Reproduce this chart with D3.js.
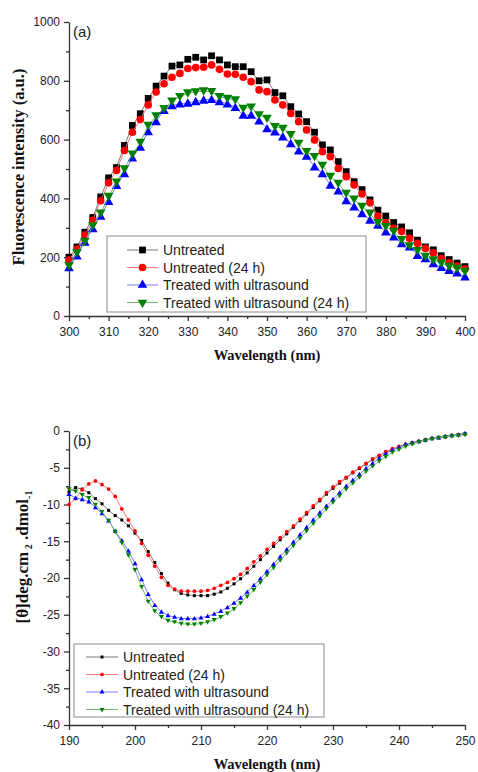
<!DOCTYPE html>
<html>
<head>
<meta charset="utf-8">
<script src="https://d3js.org/d3.v7.min.js"></script>
<style>
  body { margin: 0; background: #fff; }
  svg { display: block; }
  .tick text { font-family: "Liberation Sans", Arial, sans-serif; font-size: 12px; fill: #222; }
  .title { font-family: "Liberation Serif", "Times New Roman", serif; font-weight: bold; fill: #111; }
  .legend text { font-family: "Liberation Sans", Arial, sans-serif; font-size: 14px; fill: #222; }
  .panel-tag { font-family: "Liberation Sans", Arial, sans-serif; font-size: 15px; fill: #222; }
</style>
</head>
<body>
<div id="chart"></div>
<script>
// ---- panel (a): fluorescence spectra, 300-400 nm every 2 nm ----
const wavelengthA = [300, 302, 304, 306, 308, 310, 312, 314, 316, 318,
  320, 322, 324, 326, 328, 330, 332, 334, 336, 338,
  340, 342, 344, 346, 348, 350, 352, 354, 356, 358,
  360, 362, 364, 366, 368, 370, 372, 374, 376, 378,
  380, 382, 384, 386, 388, 390, 392, 394, 396, 398, 400];
const untreatedA = [200, 235, 285, 335, 405, 470, 505, 580, 648, 688,
  740, 782, 816, 850, 854, 873, 880, 871, 885, 871,
  854, 848, 848, 831, 800, 803, 760, 749, 712, 687,
  661, 625, 582, 565, 525, 491, 457, 430, 395, 360,
  340, 318, 303, 283, 258, 235, 225, 205, 192, 180, 168];
const untreated24A = [190, 228, 275, 325, 392, 453, 495, 563, 625, 668,
  718, 762, 790, 812, 825, 842, 845, 846, 854, 839,
  823, 822, 812, 797, 769, 763, 735, 718, 689, 661,
  633, 599, 559, 542, 502, 474, 446, 415, 385, 340,
  317, 298, 287, 264, 247, 230, 215, 195, 181, 170, 160];
const treatedA = [165, 205, 252, 298, 340, 390, 445, 485, 538, 575,
  628, 662, 700, 716, 722, 725, 730, 735, 737, 730,
  722, 710, 684, 684, 664, 638, 627, 610, 587, 562,
  544, 508, 485, 446, 426, 393, 372, 349, 327, 310,
  287, 270, 247, 236, 207, 196, 179, 166, 156, 147, 134];
const treated24A = [170, 214, 253, 306, 349, 406, 455, 500, 550, 590,
  648, 680, 705, 730, 746, 758, 762, 765, 763, 746,
  740, 735, 706, 710, 684, 672, 644, 638, 616, 587,
  559, 542, 512, 474, 451, 417, 397, 372, 349, 317,
  304, 287, 259, 238, 222, 202, 190, 179, 168, 162, 151];
const xTicksA = [300, 310, 320, 330, 340, 350, 360, 370, 380, 390, 400];
const yTicksA = [0, 200, 400, 600, 800, 1000];

// ---- panel (b): CD spectra, 190-250 nm every 1 nm ----
const wavelengthB = [190, 191, 192, 193, 194, 195, 196, 197, 198, 199,
  200, 201, 202, 203, 204, 205, 206, 207, 208, 209,
  210, 211, 212, 213, 214, 215, 216, 217, 218, 219,
  220, 221, 222, 223, 224, 225, 226, 227, 228, 229,
  230, 231, 232, 233, 234, 235, 236, 237, 238, 239,
  240, 241, 242, 243, 244, 245, 246, 247, 248, 249, 250];
const untreatedB = [-8.3, -7.7, -7.9, -8.4, -9.2, -9.9, -10.8, -11.5, -12.1, -12.9,
  -13.9, -14.9, -16.4, -17.9, -19.4, -20.7, -21.6, -22.1, -22.3, -22.4,
  -22.4, -22.4, -22.2, -21.9, -21.4, -20.8, -20.1, -19.3, -18.4, -17.5,
  -16.6, -15.7, -14.8, -14.0, -13.1, -12.2, -11.3, -10.4, -9.5, -8.6,
  -7.8, -7.1, -6.4, -5.7, -5.1, -4.5, -3.9, -3.4, -2.9, -2.5,
  -2.2, -1.9, -1.6, -1.4, -1.2, -1.0, -0.9, -0.8, -0.6, -0.5, -0.4];
const untreated24B = [-10.0, -9.2, -8.0, -7.2, -6.8, -7.3, -7.9, -8.9, -10.6, -12.1,
  -13.6, -15.3, -16.9, -18.4, -19.9, -21.0, -21.5, -21.8, -21.8, -21.8,
  -21.8, -21.7, -21.4, -21.0, -20.6, -20.1, -19.5, -18.7, -17.8, -17.0,
  -16.1, -15.3, -14.5, -13.7, -12.9, -12.0, -11.1, -10.2, -9.3, -8.4,
  -7.6, -6.9, -6.3, -5.6, -5.0, -4.4, -3.8, -3.3, -2.8, -2.4,
  -2.1, -1.8, -1.6, -1.4, -1.2, -1.0, -0.9, -0.8, -0.6, -0.5, -0.4];
const treatedB = [-8.6, -9.1, -9.3, -9.6, -10.4, -11.2, -12.2, -13.6, -14.9, -16.3,
  -18.0, -20.2, -22.2, -23.7, -24.6, -25.1, -25.3, -25.5, -25.5, -25.5,
  -25.4, -25.2, -24.9, -24.5, -24.0, -23.4, -22.7, -21.9, -21.0, -20.1,
  -19.1, -18.1, -17.1, -16.1, -15.1, -14.1, -13.1, -12.1, -11.1, -10.2,
  -9.3, -8.4, -7.5, -6.7, -5.9, -5.1, -4.4, -3.7, -3.1, -2.6,
  -2.2, -1.8, -1.6, -1.4, -1.2, -1.0, -0.9, -0.7, -0.6, -0.5, -0.3];
const treated24B = [-7.9, -8.2, -8.7, -9.1, -10.0, -11.0, -12.2, -13.7, -15.2, -16.9,
  -18.9, -21.2, -23.2, -24.5, -25.3, -25.8, -26.0, -26.2, -26.3, -26.3,
  -26.2, -26.0, -25.7, -25.3, -24.8, -24.2, -23.4, -22.5, -21.6, -20.6,
  -19.6, -18.6, -17.6, -16.6, -15.6, -14.6, -13.6, -12.6, -11.6, -10.6,
  -9.7, -8.8, -7.9, -7.1, -6.3, -5.5, -4.8, -4.1, -3.5, -2.9,
  -2.5, -2.1, -1.8, -1.5, -1.3, -1.1, -0.9, -0.8, -0.7, -0.6, -0.5];
const xTicksB = [190, 200, 210, 220, 230, 240, 250];
const yTicksB = [0, -5, -10, -15, -20, -25, -30, -35, -40];

const seriesNames = ["Untreated", "Untreated (24 h)", "Treated with ultrasound", "Treated with ultrasound (24 h)"];
const markColors = ["#000000", "#ff0000", "#0000ff", "#008000"];
const lineColors = ["#7a7a7a", "#ff7a7a", "#7a7aff", "#6cb86c"];
const shapes = [d3.symbolSquare, d3.symbolCircle, d3.symbolTriangle, d3.symbolTriangle];
const flips = [0, 0, 0, 180];

const svg = d3.select("#chart").append("svg")
  .attr("width", 478)
  .attr("height", 772);

function drawPanel(p) {
  const x = d3.scaleLinear().domain(p.xDomain).range([p.left, p.right]);
  const y = d3.scaleLinear().domain(p.yDomain).range([p.bottom, p.top]);
  const g = svg.append("g");
  const plain = d => String(d);   // "1000" and "-5", like the original

  // minor ticks first, then major axes on top
  g.append("g")
    .attr("transform", `translate(0,${p.bottom})`)
    .call(d3.axisBottom(x).tickValues(p.xMinor).tickSize(3).tickFormat(""))
    .call(a => a.select(".domain").remove());
  g.append("g")
    .attr("transform", `translate(${p.left},0)`)
    .call(d3.axisLeft(y).tickValues(p.yMinor).tickSize(3).tickFormat(""))
    .call(a => a.select(".domain").remove());

  g.append("g")
    .attr("transform", `translate(0,${p.bottom})`)
    .call(d3.axisBottom(x).tickValues(p.xTicks).tickFormat(plain).tickSize(5).tickSizeOuter(0).tickPadding(6));
  g.append("g")
    .attr("transform", `translate(${p.left},0)`)
    .call(d3.axisLeft(y).tickValues(p.yTicks).tickFormat(plain).tickSize(5).tickSizeOuter(0).tickPadding(4));

  g.selectAll(".domain, .tick line").attr("stroke", "#333").attr("stroke-width", 1.3);

  // series: line then markers, in legend order
  const line = d3.line().x((d, i) => x(p.xs[i])).y(d => y(d));
  p.series.forEach((vals, k) => {
    g.append("path")
      .datum(vals)
      .attr("d", line)
      .attr("fill", "none")
      .attr("stroke", lineColors[k])
      .attr("stroke-width", 1);
    g.selectAll(null)
      .data(vals)
      .enter().append("path")
      .attr("d", d3.symbol().type(shapes[k]).size(p.markSizes[k]))
      .attr("transform", (d, i) => `translate(${x(p.xs[i])},${y(d) + (flips[k] ? -p.triShift : (k === 2 ? p.triShift : 0))}) rotate(${flips[k]})`)
      .attr("fill", markColors[k]);
  });

  // legend
  const lg = g.append("g").attr("class", "legend");
  lg.append("rect")
    .attr("x", p.legend.x).attr("y", p.legend.y)
    .attr("width", p.legend.w).attr("height", p.legend.h)
    .attr("fill", "#fff").attr("stroke", "#8a8a8a").attr("stroke-width", 1);
  seriesNames.forEach((name, k) => {
    const ry = p.legend.y + p.legend.first + k * p.legend.step;
    lg.append("line")
      .attr("x1", p.legend.lx1).attr("x2", p.legend.lx2)
      .attr("y1", ry).attr("y2", ry)
      .attr("stroke", lineColors[k]).attr("stroke-width", 1);
    lg.append("path")
      .attr("d", d3.symbol().type(shapes[k]).size(p.markSizes[k]))
      .attr("transform", `translate(${(p.legend.lx1 + p.legend.lx2) / 2},${ry}) rotate(${flips[k]})`)
      .attr("fill", markColors[k]);
    lg.append("text")
      .attr("x", p.legend.tx).attr("y", ry + 5)
      .text(name);
  });

  // panel tag
  g.append("text").attr("class", "panel-tag")
    .attr("x", p.left + 4).attr("y", p.top + 15)
    .text(p.tag);

  // x title
  g.append("text").attr("class", "title")
    .attr("x", (p.left + p.right) / 2).attr("y", p.bottom + 44)
    .attr("text-anchor", "middle")
    .style("font-size", "14.5px")
    .text("Wavelength (nm)");

  return g;
}

const gA = drawPanel({
  xDomain: [300, 400], yDomain: [0, 1000],
  left: 69, right: 465, top: 22, bottom: 316,
  xTicks: xTicksA, yTicks: yTicksA,
  xMinor: [305, 315, 325, 335, 345, 355, 365, 375, 385, 395],
  yMinor: [100, 300, 500, 700, 900],
  xs: wavelengthA,
  series: [untreatedA, untreated24A, treatedA, treated24A],
  markSizes: [46, 46, 40, 40], triShift: 1,
  legend: { x: 107, y: 236, w: 259, h: 76, first: 14, step: 17.5, lx1: 127, lx2: 158, tx: 163 },
  tag: "(a)"
});

gA.append("text").attr("class", "title")
  .attr("transform", "translate(24,167) rotate(-90)")
  .attr("text-anchor", "middle")
  .style("font-size", "16.5px")
  .text("Fluorescence intensity (a.u.)");

const gB = drawPanel({
  xDomain: [190, 250], yDomain: [-40, 0],
  left: 69, right: 465, top: 431, bottom: 725,
  xTicks: xTicksB, yTicks: yTicksB,
  xMinor: [195, 205, 215, 225, 235, 245],
  yMinor: [-2.5, -7.5, -12.5, -17.5, -22.5, -27.5, -32.5, -37.5],
  xs: wavelengthB,
  series: [untreatedB, untreated24B, treatedB, treated24B],
  markSizes: [9, 11, 11, 11], triShift: 0.4,
  legend: { x: 74, y: 644, w: 250, h: 73, first: 13, step: 17.5, lx1: 86, lx2: 118, tx: 123 },
  tag: "(b)"
});

const yLabB = gB.append("text").attr("class", "title")
  .attr("transform", "translate(28,557) rotate(-90)")
  .attr("text-anchor", "middle")
  .style("font-size", "17px");
yLabB.append("tspan").text("[θ]deg.cm");
yLabB.append("tspan").attr("dy", 4).style("font-size", "10px").text(" 2");
yLabB.append("tspan").attr("dy", -4).text(" .dmol");
yLabB.append("tspan").attr("dy", 4).style("font-size", "10px").text("-1");
</script>
</body>
</html>
